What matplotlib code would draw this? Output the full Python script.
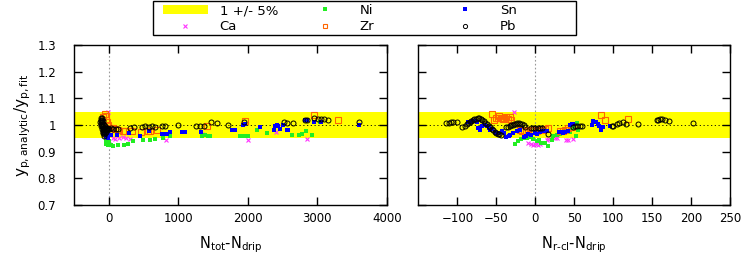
import matplotlib
matplotlib.use('Agg')
import matplotlib.pyplot as plt
from matplotlib.patches import Patch, Rectangle
from matplotlib.lines import Line2D

plt.rcParams['font.family'] = ['DejaVu Sans']
plt.rcParams['font.size'] = 8.5
plt.rcParams['mathtext.default'] = 'regular'

# ---- left panel: N_tot - N_drip ----
ca_tot_x = [-30, -15, 0, -10, 60, 90, 140, 200, 240, 300, 815, 1340, 2000, 2410, 2850, 3040]
ca_tot_y = [0.945, 0.935, 0.930, 1.048, 0.950, 0.948, 0.952, 0.955, 0.950, 0.948, 0.943, 0.966, 0.944, 0.973, 0.947, 1.014]

ni_tot_x = [-50, -40, -30, -20, 0, 25, 60, 135, 210, 280, 350, 495, 590, 660, 780, 880,
            1335, 1380, 1430, 1455, 1890, 1930, 1980, 2005, 2135, 2280, 2630, 2730, 2775, 2835, 2930, 3040]
ni_tot_y = [0.945, 0.930, 0.935, 0.925, 0.940, 0.926, 0.922, 0.925, 0.925, 0.930, 0.939, 0.942, 0.945, 0.948, 0.951, 0.958,
            0.960, 0.962, 0.960, 0.960, 0.960, 0.958, 0.958, 0.960, 0.980, 0.971, 0.964, 0.962, 0.965, 0.977, 0.962, 1.010]

zr_tot_x = [-80, -60, -50, -40, -30, -20, -10, 30, 60, 90, 130, 200, 230, 330, 465, 560, 590, 690, 1405, 1965, 2955, 3300]
zr_tot_y = [1.030, 1.040, 1.035, 1.020, 1.010, 1.000, 0.990, 0.988, 0.988, 0.985, 0.983, 0.976, 0.979, 0.976, 0.975, 0.976,
            0.979, 0.980, 0.998, 1.014, 1.037, 1.017]

sn_tot_x = [-80, -70, -60, -50, -40, -30, -20, -10, 0, 30, 110, 290, 440, 570, 760, 800, 830, 880, 1050, 1075, 1095,
            1320, 1770, 1790, 1815, 1930, 1965, 2170, 2390, 2415, 2440, 2370, 2465, 2510, 2560, 2575, 2825, 2850, 2955, 3060, 3600]
sn_tot_y = [0.985, 0.975, 0.970, 0.960, 0.955, 0.965, 0.950, 0.958, 0.962, 0.963, 0.963, 0.970, 0.960, 0.976, 0.968, 0.968,
            0.968, 0.973, 0.972, 0.972, 0.972, 0.975, 0.980, 0.980, 0.980, 1.000, 1.004, 0.994, 0.998, 0.999, 0.997, 0.980,
            0.986, 1.000, 0.981, 0.982, 1.017, 1.019, 1.013, 1.010, 1.000]

pb_tot_x = [-125, -120, -118, -115, -112, -110, -108, -105, -102, -100, -98, -95, -92, -90, -88, -85, -82, -80, -78, -75,
            -72, -70, -68, -65, -62, -60, -55, -50, -45, -40, -35, -30, -25, -20,
            0, 30, 60, 100, 130, 300, 360, 470, 520, 570, 620, 665, 760, 810, 1000, 1260, 1310, 1365, 1465, 1560,
            1720, 1950, 2520, 2560, 2650, 2820, 2850, 2955, 3015, 3055, 3100, 3150, 3600]
pb_tot_y = [1.010, 1.020, 1.005, 1.025, 0.995, 1.015, 1.028, 1.000, 1.010, 0.985, 1.020, 0.995, 1.005, 0.975, 0.990, 1.015,
            0.980, 0.970, 1.000, 0.985, 0.965, 0.975, 0.990, 0.960, 0.980, 0.995, 0.970, 0.985, 0.975, 0.990, 0.985, 0.980,
            0.990, 0.985,
            0.985, 0.987, 0.986, 0.986, 0.985, 0.990, 0.992, 0.994, 0.995, 0.994, 0.995, 0.994, 0.995, 0.995, 1.000, 0.997,
            0.998, 0.997, 1.012, 1.009, 1.000, 1.012, 1.013, 1.006, 1.006, 1.019, 1.020, 1.025, 1.021, 1.021, 1.021, 1.020, 1.010]

# ---- right panel: N_r-cl - N_drip ----
ca_rcl_x = [-27, -9, -6, -3, 0, 3, 4, 6, 15, 17, 25, 28, 40, 42, 49]
ca_rcl_y = [1.047, 0.932, 0.928, 0.926, 0.928, 0.926, 0.937, 0.930, 0.944, 0.946, 0.951, 0.950, 0.945, 0.944, 0.948]

ni_rcl_x = [-26, -22, -18, -14, -11, -7, -3, 2, 5, 8, 12, 17, 21, 23, 28, 30, 32, 40, 44, 47, 49, 52, 53, 55]
ni_rcl_y = [0.930, 0.939, 0.948, 0.952, 0.951, 0.955, 0.948, 0.939, 0.944, 0.932, 0.932, 0.922, 0.945, 0.960, 0.964, 0.968,
            0.968, 0.976, 0.972, 0.988, 0.995, 0.960, 1.008, 0.983]

zr_rcl_x = [-55, -53, -50, -48, -46, -44, -42, -40, -38, -35, -33, -31, -20, -17, -15, -12, -9, -6, -3, 2, 6, 10, 13, 17,
            32, 35, 38, 42, 47, 85, 89, 119]
zr_rcl_y = [1.042, 1.020, 1.025, 1.027, 1.035, 1.025, 1.023, 1.028, 1.030, 1.023, 1.030, 1.020, 0.983, 0.978, 0.976, 0.978,
            0.981, 0.983, 0.980, 0.976, 0.980, 0.982, 0.985, 0.989, 0.976, 0.978, 0.980, 0.988, 0.994, 1.039, 1.020, 1.023]

sn_rcl_x = [-86, -83, -80, -77, -75, -73, -71, -68, -65, -62, -60, -58, -55, -52, -50, -47, -43, -40, -37, -34, -32, -28,
            -24, -20, -15, -12, -9, -5, 0, 2, 6, 10, 15, 30, 33, 36, 38, 42, 44, 47, 49, 73, 74, 78, 80, 82, 84, 85, 87, 96]
sn_rcl_y = [1.010, 1.012, 1.014, 1.016, 1.010, 0.988, 0.983, 0.995, 1.000, 0.995, 0.990, 0.983, 0.985, 0.975, 0.970, 0.970,
            0.976, 0.970, 0.955, 0.960, 0.964, 0.970, 0.976, 0.980, 0.955, 0.960, 0.968, 0.964, 0.970, 0.968, 0.975, 0.976,
            0.976, 0.973, 0.972, 0.970, 0.973, 0.976, 1.000, 1.003, 1.002, 1.000, 1.014, 1.012, 1.004, 0.996, 0.988, 0.980,
            0.992, 0.998]

pb_rcl_x = [-114, -111, -108, -105, -101, -94, -90, -88, -86, -84, -82, -80, -78, -76, -74, -72, -70, -68, -66, -64, -62,
            -60, -58, -56, -54, -52, -50, -48, -46, -44, -37, -35, -33, -31, -29, -27, -25, -23, -21, -19, -17, -15, -13,
            -6, -3, 0, 3, 6, 9, 17, 48, 51, 54, 57, 60, 98, 100, 105, 108, 113, 116, 132, 156, 158, 160, 163, 167, 172, 202]
pb_rcl_y = [1.007, 1.009, 1.011, 1.012, 1.012, 0.992, 0.998, 1.003, 1.007, 1.011, 1.015, 1.019, 1.022, 1.024, 1.025, 1.025,
            1.023, 1.019, 1.014, 1.009, 1.004, 0.998, 0.992, 0.986, 0.980, 0.975, 0.970, 0.967, 0.965, 0.964, 0.992, 0.994,
            0.997, 0.999, 1.001, 1.003, 1.005, 1.006, 1.006, 1.005, 1.003, 1.000, 0.994, 0.988, 0.990, 0.990, 0.990, 0.989,
            0.988, 0.968, 0.992, 0.995, 0.997, 0.998, 0.997, 0.997, 0.998, 1.003, 1.007, 1.012, 1.003, 1.004, 1.019, 1.020,
            1.021, 1.021, 1.017, 1.016, 1.006]

yticks = [0.7, 0.8, 0.9, 1.0, 1.1, 1.2, 1.3]
ytick_labels = ['0.7', '0.8', '0.9', '1', '1.1', '1.2', '1.3']
xticks_tot = [0, 1000, 2000, 3000, 4000]
xticks_rcl = [-100, -50, 0, 50, 100, 150, 200, 250]

c_ca, c_ni, c_zr, c_sn, c_pb = '#ff33ff', '#22ee22', '#ff6600', '#0000ff', 'black'

fig = plt.figure(figsize=(7.47, 2.58), dpi=100)
ax1 = fig.add_axes([74.3 / 747, 1 - 205 / 258, 312.4 / 747, 160 / 258])
ax2 = fig.add_axes([418.4 / 747, 1 - 205 / 258, 311.6 / 747, 160 / 258])

panels = [
    (ax1, ca_tot_x, ca_tot_y, ni_tot_x, ni_tot_y, zr_tot_x, zr_tot_y, sn_tot_x, sn_tot_y, pb_tot_x, pb_tot_y),
    (ax2, ca_rcl_x, ca_rcl_y, ni_rcl_x, ni_rcl_y, zr_rcl_x, zr_rcl_y, sn_rcl_x, sn_rcl_y, pb_rcl_x, pb_rcl_y),
]

for ax, cax, cay, nix, niy, zrx, zry, snx, sny, pbx, pby in panels:
    ax.axhspan(0.95, 1.05, color='#ffff00', lw=0, zorder=0)
    ax.axhline(1.0, color='black', lw=0.6, ls=(0, (1.5, 3)), zorder=1)
    ax.axvline(0.0, color='#999999', lw=0.8, ls=(0, (1.5, 2)), zorder=1)
    ax.plot(cax, cay, 'x', color=c_ca, ms=3.5, mew=0.8, zorder=2)
    ax.plot(nix, niy, 's', color=c_ni, ms=3.0, mew=0, zorder=3)
    ax.plot(zrx, zry, 's', mfc='none', mec=c_zr, ms=3.8, mew=0.8, zorder=4)
    ax.plot(snx, sny, 's', color=c_sn, ms=3.2, mew=0, zorder=5)
    ax.plot(pbx, pby, 'o', mfc='none', mec=c_pb, ms=3.6, mew=0.7, zorder=6)
    ax.set_ylim(0.7, 1.3)
    ax.set_yticks(yticks)
    ax.tick_params(direction='in', length=5.5, width=1, top=True, right=True, pad=5)
    for s in ax.spines.values():
        s.set_linewidth(1)

ax1.set_xlim(-500, 4000)
ax1.set_xticks(xticks_tot)
ax1.set_yticklabels(ytick_labels)
ax1.tick_params(axis='y', pad=13)
ax1.set_xlabel(r'N$_{\rm tot}$-N$_{\rm drip}$', fontsize=10.5, labelpad=7)
ax1.set_ylabel(r'y$_{\rm p,analytic}$/y$_{\rm p,fit}$', fontsize=11, labelpad=3)

ax2.set_xlim(-150, 250)
ax2.set_xticks(xticks_rcl)
ax2.set_yticklabels([])
ax2.set_xlabel(r'N$_{\rm r\text{-}cl}$-N$_{\rm drip}$', fontsize=10.5, labelpad=7)

# legend: three columns of two entries, inside one box
h_band = Patch(facecolor='#ffff00', edgecolor='none')
def mk(marker, **kw):
    return Line2D([], [], ls='none', marker=marker, **kw)
h_ca = mk('x', color=c_ca, ms=3, mew=0.8)
h_ni = mk('s', color=c_ni, ms=2.5, mew=0)
h_zr = mk('s', mfc='none', mec=c_zr, ms=3, mew=0.8)
h_sn = mk('s', color=c_sn, ms=2.5, mew=0)
h_pb = mk('o', mfc='none', mec=c_pb, ms=3, mew=0.7)

cols = [([h_band, h_ca], ['1 +/- 5%', 'Ca'], 163),
        ([h_ni, h_zr], ['Ni', 'Zr'], 303),
        ([h_sn, h_pb], ['Sn', 'Pb'], 443)]
for hs, labs, x0 in cols:
    fig.legend(hs, labs, loc='upper left', bbox_to_anchor=(x0 / 747, 1 - 4 / 258),
               frameon=False, borderpad=0, borderaxespad=0, handlelength=3.4,
               handletextpad=0.9, labelspacing=0.25, fontsize=9.5)
fig.add_artist(Rectangle((153 / 747, 1 - 35 / 258), 423 / 747, 34 / 258, transform=fig.transFigure,
                         fill=False, lw=1, edgecolor='black'))

plt.savefig('out.png', dpi=100)
